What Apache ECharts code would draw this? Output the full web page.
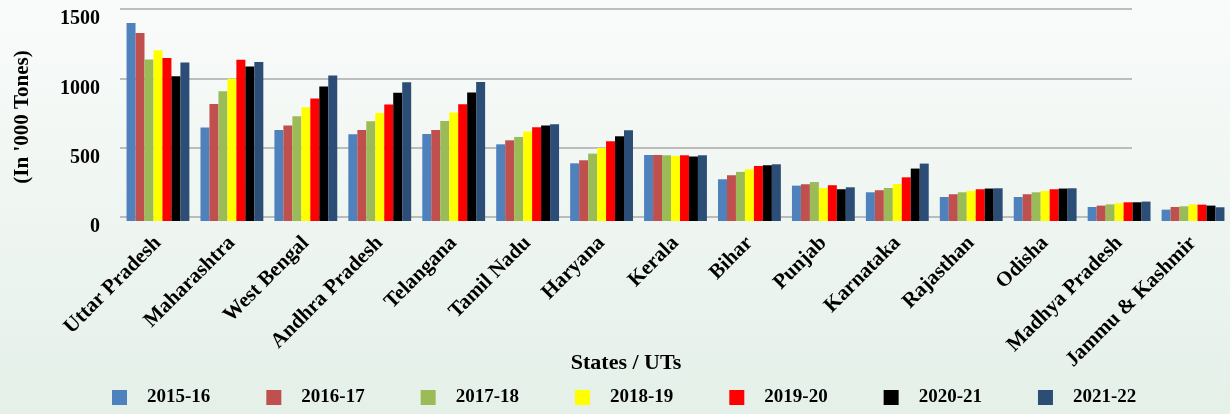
<!DOCTYPE html>
<html>
<head>
<meta charset="utf-8">
<script src="https://cdn.jsdelivr.net/npm/echarts@6/dist/echarts.min.js"></script>
<style>
  html, body { margin: 0; padding: 0; }
  #chart { width: 1230px; height: 414px; }
</style>
</head>
<body>
<div id="chart"></div>
<script>
const states = [
  'Uttar Pradesh', 'Maharashtra', 'West Bengal', 'Andhra Pradesh', 'Telangana',
  'Tamil Nadu', 'Haryana', 'Kerala', 'Bihar', 'Punjab', 'Karnataka',
  'Rajasthan', 'Odisha', 'Madhya Pradesh', 'Jammu & Kashmir'
]
const years = ['2015-16', '2016-17', '2017-18', '2018-19', '2019-20', '2020-21', '2021-22']

// one array per year, in the order of states
const y2015 = [1428, 674, 657, 626, 628, 553, 416, 476, 301, 255, 207, 173, 173, 101, 82]
const y2016 = [1356, 844, 688, 657, 657, 582, 438, 476, 330, 265, 222, 193, 193, 111, 101]
const y2017 = [1165, 936, 755, 719, 722, 606, 486, 474, 354, 281, 238, 207, 207, 120, 106]
const y2018 = [1232, 1025, 820, 779, 782, 645, 527, 470, 373, 238, 267, 217, 217, 128, 120]
const y2019 = [1176, 1162, 883, 840, 842, 676, 575, 474, 397, 258, 315, 229, 229, 135, 118]
const y2020 = [1044, 1114, 970, 924, 926, 688, 611, 465, 402, 229, 378, 234, 234, 135, 111]
const y2021 = [1143, 1147, 1049, 1001, 1003, 698, 654, 474, 409, 243, 414, 236, 236, 140, 99]

const yTicks = [0, 500, 1000, 1500]

const values = [y2015, y2016, y2017, y2018, y2019, y2020, y2021]
const colors = ['#4f81bd', '#c0504d', '#9bbb59', '#ffff00', '#ff0000', '#000000', '#2c4d75']

const font = '"Liberation Serif", "Times New Roman", serif'
const boldText = (size) => ({ fontFamily: font, fontWeight: 'bold', fontSize: size, color: '#000' })

const chart = echarts.init(document.getElementById('chart'), null, { renderer: 'canvas' })

chart.setOption({
  animation: false,
  backgroundColor: new echarts.graphic.LinearGradient(0, 0, 0, 1, [
    { offset: 0, color: '#f9fbfa' },
    { offset: 1, color: '#e5f0e9' }
  ]),
  legend: {
    data: years,
    left: 107,
    top: 383,
    itemWidth: 15,
    itemHeight: 15,
    itemGap: 56,
    icon: 'rect',
    textStyle: { ...boldText(19), padding: [0, 0, 0, 15] }
  },
  grid: [
    // back wall, carries the gridlines and the tick labels
    { left: 120, right: 98, top: 9, bottom: 197 },
    // the bars themselves
    { left: 121, right: -2, top: 13, bottom: 193 }
  ],
  xAxis: [
    {
      gridIndex: 0,
      type: 'category',
      data: states,
      name: 'States / UTs',
      nameLocation: 'middle',
      nameGap: 135,
      nameTextStyle: boldText(22),
      axisLine: { show: false },
      axisTick: { show: false },
      axisLabel: { show: false }
    },
    {
      gridIndex: 1,
      type: 'category',
      data: states,
      axisLine: { show: false },
      axisTick: { show: false },
      axisLabel: {
        rotate: 45,
        margin: 19,
        interval: 0,
        ...boldText(21)
      }
    }
  ],
  yAxis: [
    {
      gridIndex: 0,
      type: 'value',
      min: yTicks[0],
      max: yTicks[yTicks.length - 1],
      interval: 500,
      axisLine: { show: false },
      axisTick: { show: false },
      axisLabel: { ...boldText(20), margin: 20, verticalAlign: 'top', formatter: (v) => String(v) },
      splitLine: { lineStyle: { color: '#a8a8a8', width: 1.5 } }
    },
    {
      gridIndex: 1,
      type: 'value',
      min: yTicks[0],
      max: yTicks[yTicks.length - 1],
      interval: 500,
      name: "(In '000 Tones)",
      nameLocation: 'middle',
      nameGap: 88,
      nameRotate: 90,
      nameTextStyle: boldText(21),
      axisLine: { show: false },
      axisTick: { show: false },
      axisLabel: { show: false },
      splitLine: { show: false }
    }
  ],
  series: years.map((yr, i) => ({
    name: yr,
    type: 'bar',
    xAxisIndex: 1,
    yAxisIndex: 1,
    data: values[i],
    barGap: '0%',
    barCategoryGap: '15%',
    itemStyle: { color: colors[i] }
  }))
})
</script>
</body>
</html>
